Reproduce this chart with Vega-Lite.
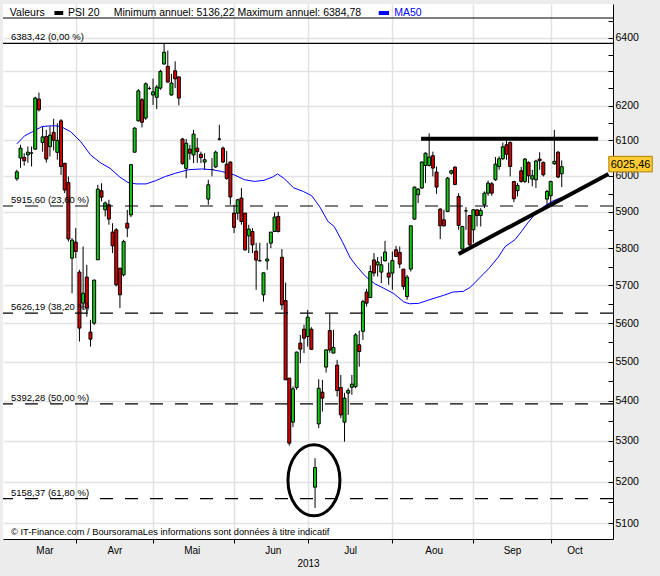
{
  "$schema": "https://vega.github.io/schema/vega-lite/v6.json",
  "width": 610,
  "height": 535,
  "autosize": {"type": "none"},
  "padding": {"left": 3, "top": 4, "right": 47, "bottom": 37},
  "background": "#ececec",
  "config": {"view": {"fill": "white", "stroke": null}, "font": "Liberation Sans"},
  "resolve": {"axis": {"x": "independent", "y": "independent"}},
  "datasets": {
    "candles": [
      {"i":0,"o":5991.4,"h":6016.7,"l":5985.8,"c":6011},{"i":1,"o":6049.8,"h":6087.4,"l":6022.3,"c":6077.9},{"i":2,"o":6051.6,"h":6063.5,"l":6028,"c":6042},{"i":3,"o":6059,"h":6082.5,"l":6036.5,"c":6066.4},{"i":4,"o":6064,"h":6082.5,"l":6026,"c":6064},
      {"i":5,"o":6075,"h":6226,"l":6073,"c":6222},{"i":6,"o":6219,"h":6238,"l":6183,"c":6188},{"i":7,"o":6094,"h":6140,"l":6068,"c":6110},{"i":8,"o":6111,"h":6130,"l":6037,"c":6047},{"i":9,"o":6082,"h":6140,"l":6054,"c":6115},
      {"i":10,"o":6123,"h":6162,"l":6071,"c":6100},{"i":11,"o":6066,"h":6149,"l":6045,"c":6100},{"i":12,"o":6156,"h":6161,"l":6002,"c":6026},{"i":13,"o":6035,"h":6036,"l":5951,"c":5960},{"i":14,"o":5981,"h":5998,"l":5818,"c":5825},
      {"i":15,"o":5773,"h":5827,"l":5679,"c":5822},{"i":16,"o":5816.5,"h":5854.7,"l":5773,"c":5791},{"i":17,"o":5735.4,"h":5741.6,"l":5552,"c":5587},{"i":18,"o":5652.7,"h":5804.5,"l":5635,"c":5679},{"i":19,"o":5722,"h":5755,"l":5617,"c":5640},
      {"i":20,"o":5576.5,"h":5608.7,"l":5539,"c":5558.2},{"i":21,"o":5600,"h":5715,"l":5595,"c":5714},{"i":22,"o":5768.5,"h":5974.6,"l":5768,"c":5962.5},{"i":23,"o":5958,"h":5979,"l":5928,"c":5940},{"i":24,"o":5905,"h":5928,"l":5886.7,"c":5924},
      {"i":25,"o":5919,"h":5932.8,"l":5864,"c":5879.5},{"i":26,"o":5843.7,"h":5868,"l":5786.7,"c":5806.4},{"i":27,"o":5850,"h":5854.7,"l":5697,"c":5701.4},{"i":28,"o":5746,"h":5746,"l":5639.6,"c":5674.7},{"i":29,"o":5728,"h":5822.7,"l":5723.6,"c":5818},
      {"i":30,"o":5868,"h":5905,"l":5830,"c":5854.7},{"i":31,"o":5891,"h":6033.5,"l":5884.8,"c":6031},{"i":32,"o":6066.4,"h":6138,"l":6066,"c":6135},{"i":33,"o":6156,"h":6248,"l":6154,"c":6243},{"i":34,"o":6217,"h":6222,"l":6137,"c":6152},
      {"i":35,"o":6164,"h":6267.6,"l":6159,"c":6263.7},{"i":36,"o":6250,"h":6256,"l":6246,"c":6250},{"i":37,"o":6231,"h":6279,"l":6202,"c":6240},{"i":38,"o":6224,"h":6260,"l":6190,"c":6254},{"i":39,"o":6251,"h":6305,"l":6246,"c":6300},
      {"i":40,"o":6322,"h":6384.78,"l":6320,"c":6357},{"i":41,"o":6315,"h":6362,"l":6266,"c":6269},{"i":42,"o":6231,"h":6293,"l":6229,"c":6266},{"i":43,"o":6302,"h":6330,"l":6251,"c":6278},{"i":44,"o":6284,"h":6285,"l":6201,"c":6222},
      {"i":45,"o":6104,"h":6107,"l":6031,"c":6034},{"i":46,"o":6020.6,"h":6104,"l":5993,"c":6092},{"i":47,"o":6075,"h":6087.4,"l":6045,"c":6063.6},{"i":48,"o":6058.5,"h":6130,"l":6035.5,"c":6118},{"i":49,"o":6077.9,"h":6107,"l":6036.5,"c":6068},
      {"i":50,"o":6060.6,"h":6068,"l":6035.5,"c":6051},{"i":51,"o":6038.5,"h":6063.7,"l":6016.7,"c":6045},{"i":52,"o":5934.7,"h":5988.6,"l":5919,"c":5974.6},{"i":53,"o":6017.5,"h":6049.8,"l":5998,"c":6017.5},{"i":54,"o":6024.8,"h":6071,"l":6022,"c":6066.4},
      {"i":55,"o":6103.7,"h":6144.6,"l":6099.6,"c":6103.7},{"i":56,"o":6077.9,"h":6082.5,"l":6035.5,"c":6038.5},{"i":57,"o":6032.6,"h":6070,"l":5988.6,"c":5992.6},{"i":58,"o":6038.5,"h":6040.4,"l":5919,"c":5940.6},{"i":59,"o":5895.9,"h":5919,"l":5841,"c":5856.7},
      {"i":60,"o":5895.9,"h":5935.5,"l":5877.5,"c":5932.8},{"i":61,"o":5937.5,"h":5965.4,"l":5864,"c":5872.8},{"i":62,"o":5895.9,"h":5895.9,"l":5793,"c":5795.6},{"i":63,"o":5833.6,"h":5864,"l":5786.7,"c":5851.9},{"i":64,"o":5845.4,"h":5854.7,"l":5786.7,"c":5809},
      {"i":65,"o":5792,"h":5814.5,"l":5688,"c":5767.7},{"i":66,"o":5765.8,"h":5814.5,"l":5764,"c":5765.8},{"i":67,"o":5674.7,"h":5733.5,"l":5656.7,"c":5733.5},{"i":68,"o":5765.3,"h":5814.5,"l":5741.6,"c":5770.6},{"i":69,"o":5813.7,"h":5843.7,"l":5800,"c":5843.7},
      {"i":70,"o":5845.4,"h":5897.6,"l":5845,"c":5885},{"i":71,"o":5886.7,"h":5899.5,"l":5842.6,"c":5845.4},{"i":72,"o":5775.3,"h":5797.5,"l":5635,"c":5648.2},{"i":73,"o":5659.6,"h":5707.5,"l":5453,"c":5453.4},{"i":74,"o":5457.7,"h":5457.7,"l":5288,"c":5294.2},
      {"i":75,"o":5346.5,"h":5436.5,"l":5334,"c":5430.5},{"i":76,"o":5433.8,"h":5526,"l":5428,"c":5524.6},{"i":77,"o":5548,"h":5569.4,"l":5496,"c":5532.3},{"i":78,"o":5584.3,"h":5595.8,"l":5522,"c":5560.8},{"i":79,"o":5565,"h":5635,"l":5539,"c":5615.8},
      {"i":80,"o":5584.3,"h":5589.5,"l":5530,"c":5531.8},{"i":81,"o":5186.3,"h":5257,"l":5136.22,"c":5234.1},{"i":82,"o":5342.2,"h":5455,"l":5331.5,"c":5431.8},{"i":83,"o":5422,"h":5453.4,"l":5373,"c":5406.9},{"i":84,"o":5486,"h":5530.5,"l":5472,"c":5530.5},
      {"i":85,"o":5580.7,"h":5624,"l":5523,"c":5530},{"i":86,"o":5522,"h":5582.5,"l":5522,"c":5536.4},{"i":87,"o":5491,"h":5504.7,"l":5411,"c":5426},{"i":88,"o":5433.8,"h":5466,"l":5356.5,"c":5364.7},{"i":89,"o":5346.5,"h":5420.4,"l":5298,"c":5406.9},
      {"i":90,"o":5419.7,"h":5432.4,"l":5364.7,"c":5426.3},{"i":91,"o":5434.5,"h":5466,"l":5415.3,"c":5442.4},{"i":92,"o":5436,"h":5573.8,"l":5432,"c":5569.4},{"i":93,"o":5543.5,"h":5580.7,"l":5487,"c":5526},{"i":94,"o":5578.6,"h":5661.5,"l":5556.4,"c":5656.7},
      {"i":95,"o":5681.9,"h":5690.7,"l":5643.7,"c":5652.7},{"i":96,"o":5667.6,"h":5753.3,"l":5666,"c":5737},{"i":97,"o":5768,"h":5786.7,"l":5723.6,"c":5732.8},{"i":98,"o":5754.6,"h":5776,"l":5723.6,"c":5762.6},{"i":99,"o":5735.4,"h":5777.6,"l":5706,"c":5755},
      {"i":100,"o":5765.8,"h":5819.9,"l":5764,"c":5789.4},{"i":101,"o":5732.8,"h":5760.9,"l":5701.4,"c":5722},{"i":102,"o":5732.8,"h":5791,"l":5688,"c":5766.6},{"i":103,"o":5795.6,"h":5806.4,"l":5776,"c":5777.6},{"i":104,"o":5788.4,"h":5804.6,"l":5746,"c":5757},
      {"i":105,"o":5743.5,"h":5743.5,"l":5688,"c":5696.8},{"i":106,"o":5670.3,"h":5728,"l":5661.5,"c":5722},{"i":107,"o":5743.5,"h":5861,"l":5737,"c":5861},{"i":108,"o":5879.4,"h":5970,"l":5877.5,"c":5968},{"i":109,"o":5946.7,"h":5965.4,"l":5923.6,"c":5962.5},
      {"i":110,"o":5965.4,"h":6040.4,"l":5963.5,"c":6038.5},{"i":111,"o":6028.9,"h":6065.5,"l":5979.3,"c":6063.7},{"i":112,"o":6028.9,"h":6120,"l":6026,"c":6052.7},{"i":113,"o":6056.4,"h":6068,"l":5998,"c":6021.5},{"i":114,"o":6010.2,"h":6026,"l":5949.4,"c":5968.2},
      {"i":115,"o":5907,"h":5909.7,"l":5824.6,"c":5861},{"i":116,"o":5877.5,"h":5905,"l":5859,"c":5861},{"i":117,"o":5900.3,"h":5996.2,"l":5898.6,"c":5993.4},{"i":118,"o":6007.3,"h":6016.7,"l":6002.6,"c":6013.9},{"i":119,"o":6024.2,"h":6026,"l":5973.4,"c":5975.5},
      {"i":120,"o":5942,"h":5951.3,"l":5850,"c":5861.8},{"i":121,"o":5797.5,"h":5861,"l":5793.7,"c":5859},{"i":122,"o":5902.2,"h":5912.4,"l":5850,"c":5902.2},{"i":123,"o":5889.3,"h":5891,"l":5806.4,"c":5809},{"i":124,"o":5850,"h":5907,"l":5814.5,"c":5905},
      {"i":125,"o":5905,"h":5905,"l":5859,"c":5889.3},{"i":126,"o":5889.3,"h":5909.7,"l":5859,"c":5903},{"i":127,"o":5919,"h":5956,"l":5909.7,"c":5951.3},{"i":128,"o":5951.3,"h":5986.6,"l":5943.9,"c":5979.3},{"i":129,"o":5977.4,"h":5983,"l":5943.9,"c":5951.3},
      {"i":130,"o":5988.6,"h":6052.7,"l":5985.8,"c":6032.6},{"i":131,"o":6026,"h":6054.6,"l":6016.7,"c":6047.9},{"i":132,"o":6047.9,"h":6094.1,"l":6044,"c":6081.6},{"i":133,"o":6087.4,"h":6101.7,"l":6045,"c":6060.6},{"i":134,"o":6094.1,"h":6097,"l":5998,"c":6026},
      {"i":135,"o":5983.9,"h":5983.9,"l":5926.3,"c":5935.5},{"i":136,"o":5958,"h":5979.3,"l":5942,"c":5972.8},{"i":137,"o":6013.9,"h":6025,"l":5980,"c":5983.9},{"i":138,"o":5983.9,"h":6049.8,"l":5979.3,"c":6047},{"i":139,"o":6037.4,"h":6040.4,"l":5979.3,"c":5999.8},
      {"i":140,"o":5990.6,"h":6016.7,"l":5969.9,"c":5999.8},{"i":141,"o":5988.6,"h":6045,"l":5965.4,"c":6041.5},{"i":142,"o":6047,"h":6066.4,"l":6016.7,"c":6042.2},{"i":143,"o":6037.4,"h":6040.4,"l":5998,"c":6002.6},{"i":144,"o":5934.7,"h":5960.6,"l":5919,"c":5955.8},
      {"i":145,"o":5944,"h":5985.8,"l":5923.6,"c":5983.9},{"i":146,"o":6033.5,"h":6130,"l":6031,"c":6040.4},{"i":147,"o":6066.4,"h":6070,"l":5993.4,"c":5996.2},{"i":148,"o":6005.4,"h":6043,"l":5968,"c":6025.46}
    ],
    "ma": [
      {"i":0,"v":6090},{"i":2.1,"v":6113},{"i":4.3,"v":6125},{"i":6.9,"v":6140},{"i":10.2,"v":6142},{"i":11.9,"v":6140},{"i":14.6,"v":6125},{"i":17.3,"v":6097},{"i":20,"v":6059},{"i":22.6,"v":6037},{"i":25.3,"v":6021},{"i":28,"v":5996},{"i":30.2,"v":5981},{"i":32.4,"v":5977},{"i":35.1,"v":5977},{"i":37.7,"v":5986},{"i":40.4,"v":5998},{"i":43.1,"v":6007},{"i":46.7,"v":6017},{"i":50.2,"v":6019},{"i":52.9,"v":6017},{"i":55.6,"v":6012},{"i":59.1,"v":6002},{"i":61.8,"v":5989},{"i":64.5,"v":5984},{"i":67.1,"v":5987},{"i":69.4,"v":5996},{"i":70.8,"v":6005},{"i":72.5,"v":5993},{"i":75.2,"v":5966},{"i":77.8,"v":5956},{"i":80.1,"v":5944},{"i":82.3,"v":5913},{"i":84.5,"v":5873},{"i":86.2,"v":5859},{"i":88.4,"v":5818},{"i":90.6,"v":5773},{"i":92.4,"v":5750},{"i":94.8,"v":5723},{"i":97.1,"v":5705},{"i":99.7,"v":5692},{"i":102.4,"v":5678},{"i":105.1,"v":5656},{"i":106.6,"v":5651},{"i":109.1,"v":5652},{"i":112.2,"v":5662},{"i":115.8,"v":5673},{"i":118.4,"v":5682},{"i":121.3,"v":5684},{"i":123.2,"v":5695},{"i":125.9,"v":5722},{"i":128.2,"v":5745},{"i":130.8,"v":5776},{"i":132.6,"v":5804},{"i":135.3,"v":5823},{"i":137.1,"v":5846},{"i":138.8,"v":5869},{"i":140.6,"v":5891},{"i":143.3,"v":5915},{"i":145.5,"v":5929},{"i":147.7,"v":5938}
    ],
    "fib": [
      {"v":6383.42,"label":"6383,42 (0,00 %)"},
      {"v":5915.60,"label":"5915,60 (23,60 %)"},
      {"v":5626.19,"label":"5626,19 (38,20 %)"},
      {"v":5392.28,"label":"5392,28 (50,00 %)"},
      {"v":5158.37,"label":"5158,37 (61,80 %)"}
    ],
    "trend": [
      {"i":109.8,"v":6104.5,"i2":157.9,"v2":6104.5},
      {"i":120,"v":5784,"i2":160.7,"v2":6005}
    ],
    "circle": [{"i":80.7,"v":5203}],
    "last": [{"i":160.8,"i2":172.6,"v":6054.6,"v2":6010.8,"im":166.7,"vm":6030,"label":"6025,46"}],
    "one": [{}]
  },
  "layer": [
    {
      "data": {"name": "candles"},
      "mark": {"type": "rule", "color": "black", "strokeWidth": 1},
      "encoding": {
        "x": {"field": "i", "type": "quantitative",
          "scale": {"domain": [-2.4, 160.57], "nice": false, "zero": false},
          "axis": {
            "title": null, "orient": "bottom",
            "values": [16, 37, 59, 79, 102, 124, 145],
            "labels": false,
            "ticks": true, "tickSize": 4, "tickColor": "black",
            "grid": true, "gridColor": "#e2e2e2", "gridWidth": 1.5,
            "domain": true, "domainColor": "black", "domainWidth": 1
          }
        },
        "y": {"field": "l", "type": "quantitative",
          "scale": {"type": "log", "domain": [5062, 6502], "nice": false},
          "axis": {
            "title": null, "orient": "right",
            "values": [5100,5200,5300,5400,5500,5600,5700,5800,5900,6000,6100,6200,6300,6400],
            "labelExpr": "datum.value == 6300 ? '' : '' + datum.value",
            "labelOverlap": false, "labelFontSize": 10.5, "labelColor": "black", "labelPadding": 2,
            "ticks": false, "tickSize": 0,
            "grid": true, "gridColor": "#e2e2e2", "gridWidth": 1.5,
            "domain": true, "domainColor": "black", "domainWidth": 1
          }
        },
        "y2": {"field": "h"}
      }
    },
    {
      "data": {"name": "ma"},
      "mark": {"type": "line", "color": "#0000ff", "strokeWidth": 1},
      "encoding": {
        "x": {"field": "i", "type": "quantitative",
          "axis": {
            "title": "2013", "orient": "bottom", "titleFont": "Liberation Sans", "titleFontSize": 10, "titleFontWeight": "normal", "titleColor": "black", "titlePadding": 3,
            "values": [7.5, 26.5, 47.5, 69.5, 90.5, 113.2, 134.5, 151.5],
            "labelExpr": "datum.value < 15 ? 'Mar' : datum.value < 36 ? 'Avr' : datum.value < 58 ? 'Mai' : datum.value < 78 ? 'Jun' : datum.value < 100 ? 'Jul' : datum.value < 120 ? 'Aou' : datum.value < 140 ? 'Sep' : 'Oct'",
            "labelOverlap": false, "labelFlush": false, "labelFontSize": 10, "labelColor": "black", "labelPadding": 6,
            "ticks": false, "tickSize": 0, "grid": false, "domain": false
          }
        },
        "y": {"field": "v", "type": "quantitative",
          "axis": {
            "title": null, "orient": "right", "offset": -5,
            "values": [5100,5150,5200,5250,5300,5350,5400,5450,5500,5550,5600,5650,5700,5750,5800,5850,5900,5950,6000,6050,6100,6150,6200,6250,6300,6350,6400,6450],
            "labels": false, "ticks": true, "tickSize": 5, "tickColor": "black",
            "grid": false, "domain": false
          }
        }
      }
    },
    {
      "data": {"name": "candles"},
      "mark": {"type": "bar", "width": 3, "stroke": "black", "strokeWidth": 1},
      "encoding": {
        "x": {"field": "i", "type": "quantitative", "axis": null},
        "y": {"field": "o", "type": "quantitative", "axis": null},
        "y2": {"field": "c"},
        "color": {"condition": {"test": "datum.c >= datum.o", "value": "#14c814"}, "value": "#d40000"}
      }
    },
    {
      "data": {"name": "fib"},
      "transform": [{"filter": "datum.v > 6000"}],
      "mark": {"type": "rule", "color": "black", "strokeWidth": 1.2},
      "encoding": {"y": {"field": "v", "type": "quantitative", "axis": null}}
    },
    {
      "data": {"name": "fib"},
      "transform": [{"filter": "datum.v < 6000"}],
      "mark": {"type": "rule", "color": "black", "strokeWidth": 1.2, "strokeDash": [13, 12]},
      "encoding": {"y": {"field": "v", "type": "quantitative", "axis": null}}
    },
    {
      "data": {"name": "fib"},
      "mark": {"type": "text", "align": "left", "baseline": "alphabetic", "dy": -3, "fontSize": 9.5, "color": "black"},
      "encoding": {
        "x": {"datum": -1.6, "type": "quantitative", "axis": null},
        "y": {"field": "v", "type": "quantitative", "axis": null},
        "text": {"field": "label"}
      }
    },
    {
      "data": {"name": "trend"},
      "mark": {"type": "rule", "color": "black", "strokeWidth": 4},
      "encoding": {
        "x": {"field": "i", "type": "quantitative", "axis": null},
        "x2": {"field": "i2"},
        "y": {"field": "v", "type": "quantitative", "axis": null},
        "y2": {"field": "v2"}
      }
    },
    {
      "data": {"name": "circle"},
      "mark": {"type": "point", "shape": "M -0.732 0 A 0.732 1 0 1 0 0.732 0 A 0.732 1 0 1 0 -0.732 0 Z", "size": 5041, "filled": false, "stroke": "black", "strokeWidth": 3, "opacity": 1},
      "encoding": {
        "x": {"field": "i", "type": "quantitative", "axis": null},
        "y": {"field": "v", "type": "quantitative", "axis": null}
      }
    },
    {
      "data": {"name": "last"},
      "mark": {"type": "rect", "fill": "#ffcc33", "stroke": "#b08000", "strokeWidth": 1},
      "encoding": {
        "x": {"field": "i", "type": "quantitative", "axis": null},
        "x2": {"field": "i2"},
        "y": {"field": "v", "type": "quantitative", "axis": null},
        "y2": {"field": "v2"}
      }
    },
    {
      "data": {"name": "last"},
      "mark": {"type": "text", "align": "center", "baseline": "middle", "fontSize": 11, "color": "black"},
      "encoding": {
        "x": {"field": "im", "type": "quantitative", "axis": null},
        "y": {"field": "vm", "type": "quantitative", "axis": null},
        "text": {"field": "label"}
      }
    },
    {
      "data": {"name": "one"},
      "mark": {"type": "rule", "color": "black", "strokeWidth": 1},
      "encoding": {"y": {"datum": 6459.5, "type": "quantitative", "axis": null}}
    },
    {
      "data": {"name": "one"},
      "mark": {"type": "text", "align": "left", "baseline": "middle", "fontSize": 10.5, "color": "black"},
      "encoding": {
        "x": {"datum": -1.9, "type": "quantitative", "axis": null},
        "y": {"datum": 6474.7, "type": "quantitative", "axis": null},
        "text": {"value": "Valeurs"}
      }
    },
    {
      "data": {"name": "one"},
      "mark": {"type": "rule", "color": "black", "strokeWidth": 4},
      "encoding": {
        "x": {"datum": 10.2, "type": "quantitative", "axis": null},
        "x2": {"datum": 12.6},
        "y": {"datum": 6474.7, "type": "quantitative", "axis": null}
      }
    },
    {
      "data": {"name": "one"},
      "mark": {"type": "text", "align": "left", "baseline": "middle", "fontSize": 10.5, "color": "black"},
      "encoding": {
        "x": {"datum": 13.9, "type": "quantitative", "axis": null},
        "y": {"datum": 6474.7, "type": "quantitative", "axis": null},
        "text": {"value": "PSI 20"}
      }
    },
    {
      "data": {"name": "one"},
      "mark": {"type": "text", "align": "left", "baseline": "middle", "fontSize": 10.5, "color": "black"},
      "encoding": {
        "x": {"datum": 26.3, "type": "quantitative", "axis": null},
        "y": {"datum": 6474.7, "type": "quantitative", "axis": null},
        "text": {"value": "Minimum annuel: 5136,22 Maximum annuel: 6384,78"}
      }
    },
    {
      "data": {"name": "one"},
      "mark": {"type": "rule", "color": "#0000ff", "strokeWidth": 4},
      "encoding": {
        "x": {"datum": 98.3, "type": "quantitative", "axis": null},
        "x2": {"datum": 101.1},
        "y": {"datum": 6474.7, "type": "quantitative", "axis": null}
      }
    },
    {
      "data": {"name": "one"},
      "mark": {"type": "text", "align": "left", "baseline": "middle", "fontSize": 10.5, "color": "#0000ff"},
      "encoding": {
        "x": {"datum": 102.5, "type": "quantitative", "axis": null},
        "y": {"datum": 6474.7, "type": "quantitative", "axis": null},
        "text": {"value": "MA50"}
      }
    },
    {
      "data": {"name": "one"},
      "mark": {"type": "text", "align": "left", "baseline": "middle", "fontSize": 9.3, "color": "black"},
      "encoding": {
        "x": {"datum": -1.6, "type": "quantitative", "axis": null},
        "y": {"datum": 5079, "type": "quantitative", "axis": null},
        "text": {"value": "© IT-Finance.com / BoursoramaLes informations sont données à titre indicatif"}
      }
    }
  ]
}
